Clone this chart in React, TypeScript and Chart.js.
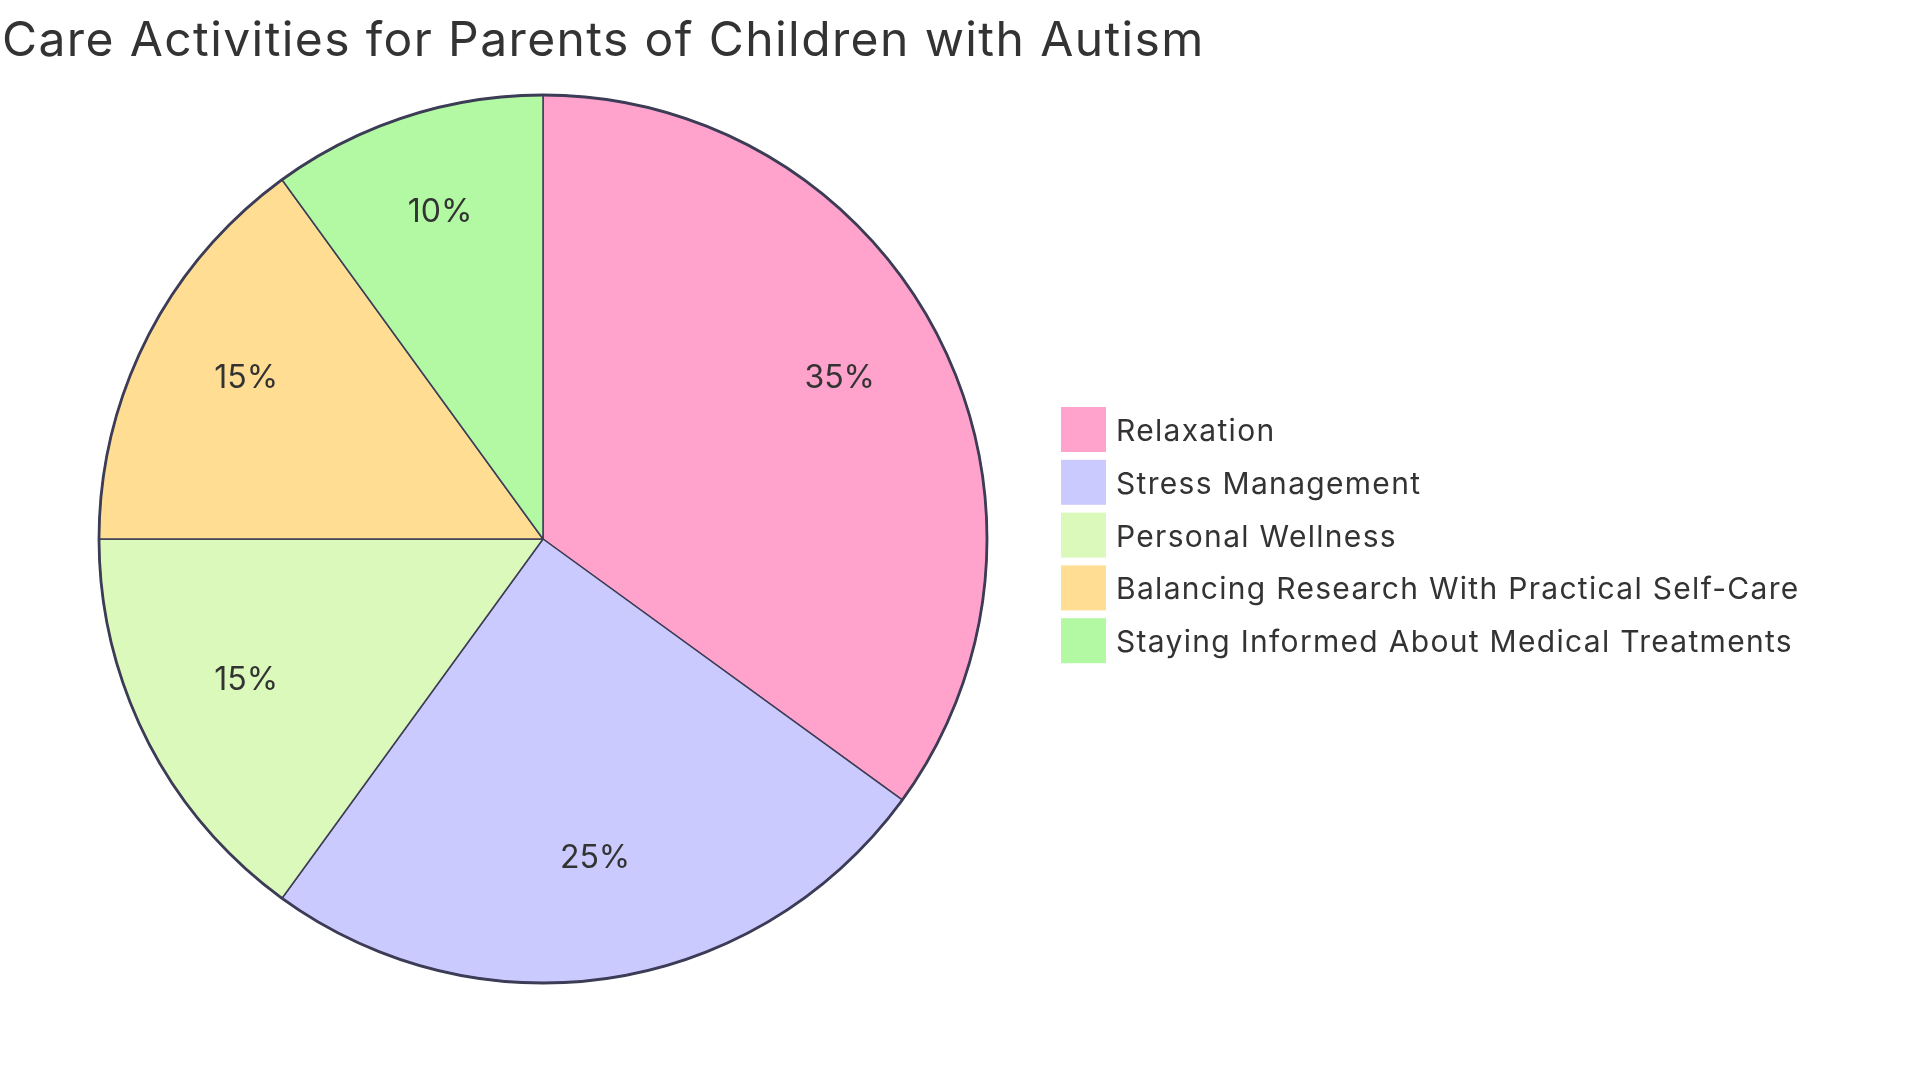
import React, { useEffect, useRef } from "react";
import { Chart, registerables } from "chart.js";

Chart.register(...registerables);

const TITLE = "Care Activities for Parents of Children with Autism";
const categories = [
  "Relaxation",
  "Stress Management",
  "Personal Wellness",
  "Balancing Research With Practical Self-Care",
  "Staying Informed About Medical Treatments",
];
const values = [35, 25, 15, 15, 10];
const colors = ["#FFA3CD", "#CACAFE", "#DBF9BA", "#FFDE94", "#B3F8A3"];
const STROKE = "#3c3c56";
const TEXT = "#333333";
const FONT = "Inter, 'Noto Sans', sans-serif";

const overlayPlugin = {
  id: "overlay",
  afterDatasetsDraw(chart: any) {
    const ctx = chart.ctx;
    const meta = chart.getDatasetMeta(0);
    const arcs = meta.data;
    if (!arcs.length) return;
    const first = arcs[0];
    const cx = first.x;
    const cy = first.y;
    const r = first.outerRadius;
    ctx.save();
    ctx.beginPath();
    ctx.arc(cx, cy, r, 0, Math.PI * 2);
    ctx.lineWidth = 2.8;
    ctx.strokeStyle = STROKE;
    ctx.stroke();
    const data = chart.data.datasets[0].data as number[];
    const total = data.reduce((a, b) => a + b, 0);
    ctx.fillStyle = TEXT;
    ctx.font = `32px ${FONT}`;
    ctx.textAlign = "center";
    ctx.textBaseline = "alphabetic";
    arcs.forEach((arc: any, i: number) => {
      const mid = (arc.startAngle + arc.endAngle) / 2;
      const rr = arc.outerRadius * 0.75;
      const x = arc.x + Math.cos(mid) * rr;
      const y = arc.y + Math.sin(mid) * rr;
      ctx.fillText(`${Math.round((data[i] / total) * 100)}%`, x, y);
    });
    ctx.restore();
  },
  afterDraw(chart: any) {
    const ctx = chart.ctx;
    ctx.save();
    ctx.fillStyle = TEXT;
    ctx.font = `48px ${FONT}`;
    ctx.textAlign = "left";
    ctx.textBaseline = "alphabetic";
    (ctx as any).letterSpacing = "1.4px";
    ctx.fillText(TITLE, 2, 56);
    const labels = chart.data.labels as string[];
    const bg = chart.data.datasets[0].backgroundColor as string[];
    const boxX = 1061;
    const boxTop = 407;
    const size = 45;
    const step = 52.8;
    ctx.font = `30px ${FONT}`;
    (ctx as any).letterSpacing = "1.3px";
    labels.forEach((lab, i) => {
      const y = boxTop + i * step;
      ctx.fillStyle = bg[i];
      ctx.fillRect(boxX, y, size, size);
      ctx.fillStyle = TEXT;
      ctx.fillText(lab, 1116, y + 34);
    });
    (ctx as any).letterSpacing = "0px";
    ctx.restore();
  },
};

export default function App() {
  const ref = useRef<HTMLCanvasElement | null>(null);
  useEffect(() => {
    if (!ref.current) return;
    const chart = new Chart(ref.current, {
      type: "pie",
      data: {
        labels: categories,
        datasets: [
          {
            data: values,
            backgroundColor: colors,
            borderColor: STROKE,
            borderWidth: 1.5,
          },
        ],
      },
      options: {
        responsive: false,
        animation: false,
        radius: 444,
        layout: { padding: { left: 0, right: 834, top: 0, bottom: 2 } },
        plugins: {
          legend: { display: false },
          title: { display: false },
          tooltip: { enabled: false },
        },
      } as any,
      plugins: [overlayPlugin],
    });
    return () => chart.destroy();
  }, []);
  return (
    <div style={{ position: "absolute", left: 0, top: 0, width: 1920, height: 1080, background: "#ffffff" }}>
      <canvas ref={ref} width={1920} height={1080} style={{ display: "block", width: 1920, height: 1080 }} />
    </div>
  );
}
